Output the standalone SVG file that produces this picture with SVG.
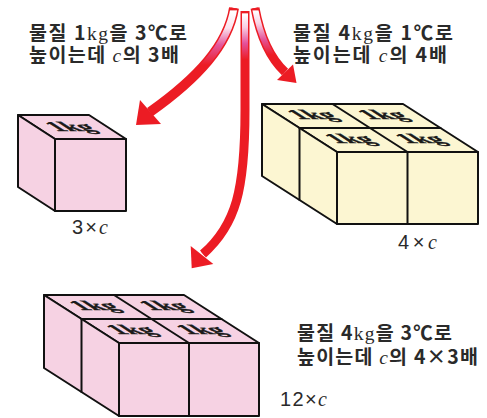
<svg xmlns="http://www.w3.org/2000/svg" width="487" height="418" viewBox="0 0 487 418">
  <style>
    .face-p { fill: #f6d2e3; stroke: #111; stroke-width: 2; stroke-linejoin: round; }
    .face-y { fill: #fcf6d2; stroke: #111; stroke-width: 2; stroke-linejoin: round; }
    .edge { fill: none; stroke: #111; stroke-width: 2; stroke-linecap: round; }
    .kg-mark { font-family: "Liberation Serif", "DejaVu Serif", serif; font-weight: bold; font-size: 18px; fill: #1a1a1a; stroke: #1a1a1a; stroke-width: 0.5; text-anchor: middle; }
    .note { font-family: "Noto Sans CJK KR", "Liberation Sans", sans-serif; font-weight: bold; font-size: 19.5px; fill: #2a2a2a; }
    .unit { font-family: "Liberation Serif", serif; font-weight: normal; }
    .var { font-family: "Liberation Serif", serif; font-style: italic; font-weight: normal; }
    .count { font-family: "Liberation Sans", "Noto Sans", sans-serif; font-size: 20px; fill: #2a2a2a; }
    .shaft { fill: none; stroke: #ec1c24; stroke-linecap: butt; }
    .head { fill: #ec1c24; }
  </style>
  <defs>
    <linearGradient id="fadeL" gradientUnits="userSpaceOnUse" x1="0" y1="8" x2="0" y2="75">
      <stop offset="0" stop-color="#ec1c24"/>
      <stop offset="0.025" stop-color="#ec1c24"/>
      <stop offset="0.045" stop-color="#ffffff"/>
      <stop offset="0.3" stop-color="#fbe3ee"/>
      <stop offset="0.55" stop-color="#e4569c"/>
      <stop offset="0.85" stop-color="#ec1c24"/>
      <stop offset="1" stop-color="#ec1c24"/>
    </linearGradient>
    <linearGradient id="fadeM" gradientUnits="userSpaceOnUse" x1="0" y1="11" x2="0" y2="65">
      <stop offset="0" stop-color="#ec1c24"/>
      <stop offset="0.03" stop-color="#ec1c24"/>
      <stop offset="0.055" stop-color="#ffffff"/>
      <stop offset="0.3" stop-color="#f8cfe2"/>
      <stop offset="0.6" stop-color="#e4509a"/>
      <stop offset="0.9" stop-color="#ec1c24"/>
      <stop offset="1" stop-color="#ec1c24"/>
    </linearGradient>
    <linearGradient id="fadeR" gradientUnits="userSpaceOnUse" x1="0" y1="8" x2="0" y2="60">
      <stop offset="0" stop-color="#ec1c24"/>
      <stop offset="0.03" stop-color="#ec1c24"/>
      <stop offset="0.06" stop-color="#ffffff"/>
      <stop offset="0.3" stop-color="#f8d3e4"/>
      <stop offset="0.6" stop-color="#e4559b"/>
      <stop offset="0.9" stop-color="#ec1c24"/>
      <stop offset="1" stop-color="#ec1c24"/>
    </linearGradient>
  </defs>

  <!-- Arrows fanning out from the top -->
  <g id="connectors">
    <g id="arrow-left">
      <path class="shaft" stroke-width="10" d="M234,8 C228,45 198,78 150,112"/>
      <path fill="none" stroke="url(#fadeL)" stroke-width="7" d="M234,8 C228,45 198,78 150,112"/>
      <polygon class="head" points="140,100 161,124 136,125"/>
    </g>
    <g id="arrow-middle">
      <path class="shaft" stroke-width="9" d="M245,11 L245,110 C245,190 236,225 203,254"/>
      <path fill="none" stroke="url(#fadeM)" stroke-width="6" d="M245,11 L245,110 C245,190 236,225 203,254"/>
      <polygon class="head" points="190.7,246 213.3,264 191.7,268.3"/>
    </g>
    <g id="arrow-right">
      <path class="shaft" stroke-width="9" d="M255,8 C260,35 270,58 285,72"/>
      <path fill="none" stroke="url(#fadeR)" stroke-width="6" d="M255,8 C260,35 270,58 285,72"/>
      <polygon class="head" points="277,80 293,64.5 296.5,83"/>
    </g>
  </g>

  <!-- Single 1kg cube -->
  <g id="cube-one">
    <polygon class="face-p" points="18,115 89,115 126,139 55,139"/>
    <polygon class="face-p" points="18,115 55,139 55,211 18,187"/>
    <rect class="face-p" x="55" y="139" width="71" height="72"/>
    <text class="kg-mark" transform="matrix(1.5,0,1.15,0.75,77,131)">1kg</text>
    <text class="count" x="72" y="234" textLength="36" lengthAdjust="spacing">3×<tspan class="var">c</tspan></text>
  </g>

  <!-- Four 1kg cubes, cream -->
  <g id="block-four">
    <polygon class="face-y" points="262,104 403,104 478,152 337,152"/>
    <polygon class="face-y" points="262,104 337,152 337,224 262,176"/>
    <rect class="face-y" x="337" y="152" width="141" height="72"/>
    <line class="edge" x1="332.5" y1="104" x2="407.5" y2="152"/>
    <line class="edge" x1="299.5" y1="128" x2="440.5" y2="128"/>
    <line class="edge" x1="299.5" y1="128" x2="299.5" y2="200"/>
    <line class="edge" x1="407.5" y1="152" x2="407.5" y2="224"/>
    <text class="kg-mark" transform="matrix(1.5,0,1.15,0.75,319,119)">1kg</text>
    <text class="kg-mark" transform="matrix(1.5,0,1.15,0.75,389.5,119)">1kg</text>
    <text class="kg-mark" transform="matrix(1.5,0,1.15,0.75,356.5,143)">1kg</text>
    <text class="kg-mark" transform="matrix(1.5,0,1.15,0.75,427,143)">1kg</text>
    <text class="count" x="398" y="249" textLength="39" lengthAdjust="spacing">4×<tspan class="var">c</tspan></text>
  </g>

  <!-- Four 1kg cubes, pink -->
  <g id="block-four-pink">
    <polygon class="face-p" points="44,295 184,295 259,343 119,343"/>
    <polygon class="face-p" points="44,295 119,343 119,416 44,368"/>
    <rect class="face-p" x="119" y="343" width="140" height="73"/>
    <line class="edge" x1="114" y1="295" x2="189" y2="343"/>
    <line class="edge" x1="81.5" y1="319" x2="221.5" y2="319"/>
    <line class="edge" x1="81.5" y1="319" x2="81.5" y2="392"/>
    <line class="edge" x1="189" y1="343" x2="189" y2="416"/>
    <text class="kg-mark" transform="matrix(1.5,0,1.15,0.75,101,310)">1kg</text>
    <text class="kg-mark" transform="matrix(1.5,0,1.15,0.75,171,310)">1kg</text>
    <text class="kg-mark" transform="matrix(1.5,0,1.15,0.75,138,334)">1kg</text>
    <text class="kg-mark" transform="matrix(1.5,0,1.15,0.75,208,334)">1kg</text>
    <text class="count" x="280" y="406" textLength="47" lengthAdjust="spacing">12×<tspan class="var">c</tspan></text>
  </g>

  <!-- Notes -->
  <g id="note-left">
    <text class="note"><tspan x="29" y="40" textLength="158" lengthAdjust="spacing">물질 1<tspan class="unit">kg</tspan>을 3℃로</tspan><tspan x="29" y="62" textLength="150" lengthAdjust="spacing">높이는데 <tspan class="var">c</tspan>의 3배</tspan></text>
  </g>
  <g id="note-right">
    <text class="note"><tspan x="293" y="40" textLength="160" lengthAdjust="spacing">물질 4<tspan class="unit">kg</tspan>을 1℃로</tspan><tspan x="293" y="62" textLength="154" lengthAdjust="spacing">높이는데 <tspan class="var">c</tspan>의 4배</tspan></text>
  </g>
  <g id="note-bottom">
    <text class="note"><tspan x="297" y="340" textLength="155" lengthAdjust="spacing">물질 4<tspan class="unit">kg</tspan>을 3℃로</tspan><tspan x="297" y="364" textLength="181" lengthAdjust="spacing">높이는데 <tspan class="var">c</tspan>의 4×3배</tspan></text>
  </g>
</svg>
